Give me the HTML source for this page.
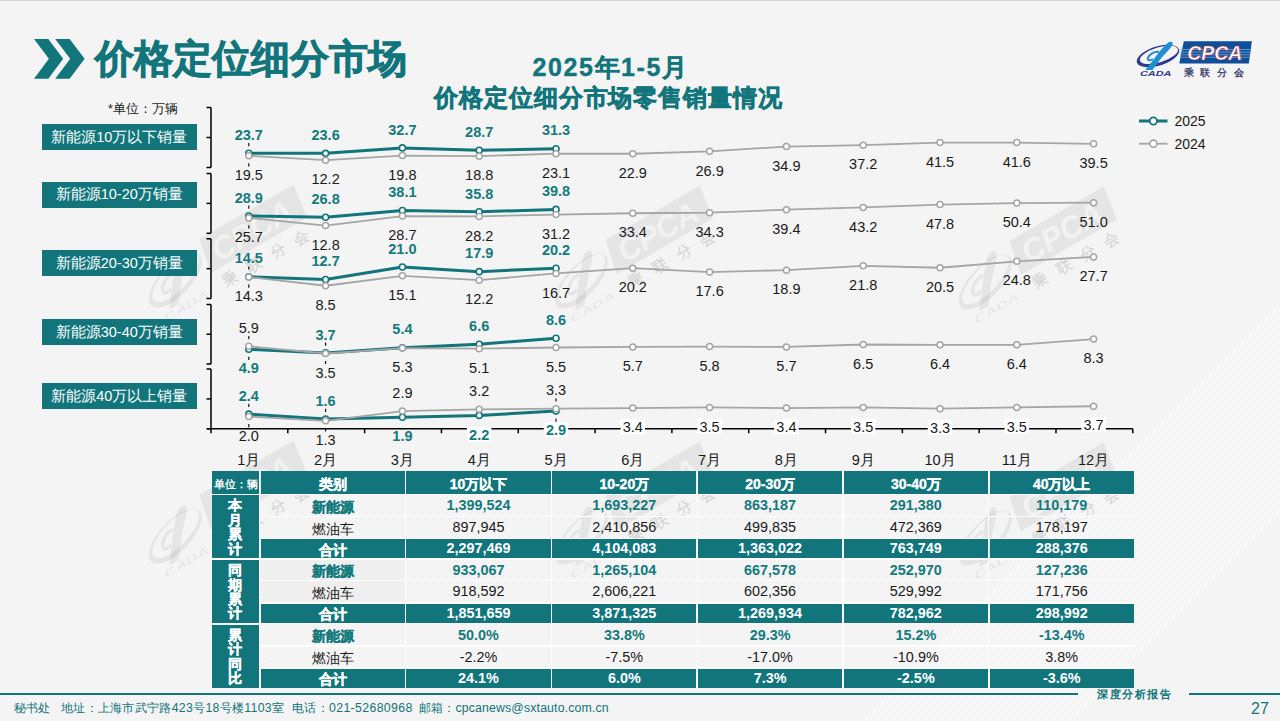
<!DOCTYPE html>
<html><head><meta charset="utf-8"><style>
*{margin:0;padding:0;box-sizing:border-box}
html,body{width:1280px;height:721px;overflow:hidden}
body{position:relative;font-family:'Liberation Sans', sans-serif;background-color:#f4f4f4;}
.bg{background-color:#f4f4f4;background-image:repeating-linear-gradient(135deg,#f8f8f8 0px,#f8f8f8 1.5px,#f0f0f0 1.5px,#f0f0f0 2.83px);background-attachment:fixed}
.a{position:absolute;white-space:nowrap}
.topline{position:absolute;left:0;top:0;width:1280px;height:1px;background:#d6d6d2}
.title{position:absolute;left:95px;top:32px;font-size:38.5px;font-weight:bold;color:#11757b;letter-spacing:0px;line-height:54px;-webkit-text-stroke:0.9px #11757b}
.st{position:absolute;font-weight:bold;color:#11757b;white-space:nowrap;text-align:center}
.lb{position:absolute;left:42px;width:154.5px;background:#11757b;color:#fff;font-size:14.5px;text-align:center;display:flex;align-items:center;justify-content:center;white-space:nowrap}
.c{position:absolute;text-align:center;white-space:nowrap;font-size:14px;padding-top:1.5px}
.hw{color:#fff;font-weight:bold}
.hw.cj{-webkit-text-stroke:0.35px #fff}
.hu{color:#fff;font-weight:bold;font-size:10.5px}
.nt{color:#137a7e;font-weight:bold}
.nt.cj{-webkit-text-stroke:0.35px #137a7e}
.rg{color:#1a1a1a}
.num{font-size:14.4px;padding-top:0!important}
.vt{color:#fff;font-weight:bold;-webkit-text-stroke:0.3px #fff;padding-top:3px!important;padding-right:1.2px;display:flex;flex-direction:column;align-items:center;justify-content:center;line-height:14.4px!important;font-size:13.8px}
.vt span{display:block;height:14.4px}
svg text{font-family:'Liberation Sans', sans-serif}
.ft{position:absolute;top:700.5px;font-size:12.3px;color:#11757b;line-height:15px;white-space:nowrap}
</style></head><body>
<div class="a bg" style="left:0;top:0;width:1280px;height:721px"></div>
<svg class="a" style="left:0;top:0" width="1280" height="721" viewBox="0 0 1280 721"><g transform="translate(230,277) rotate(-30) scale(1.6) translate(-1188.5,-71.5)" fill="#000" fill-opacity="0.06" stroke-opacity="0.06">
<g transform="rotate(-17 1158 56)"><path fill-rule="evenodd" d="M1136,56 a22,9.6 0 1,0 44,0 a22,9.6 0 1,0 -44,0 Z M1139.4,55.2 a19.8,7.5 0 1,0 39.6,0 a19.8,7.5 0 1,0 -39.6,0 Z"/></g>
<path d="M1145.4,70 L1152.4,70 L1160.5,59 C1164.5,54 1170.5,49 1172.6,44.5 C1173.4,42 1171,41.2 1168.6,42.2 C1164.5,45 1160.5,50.5 1157,55 Z"/>
<path fill="none" stroke="#000" stroke-width="2" d="M1159,51.8 C1154.5,51.2 1148.8,54.2 1147.8,58.2 C1147.3,60.5 1150.2,60.8 1153,59.2"/>
<text x="1140" y="75.8" font-size="6.4" font-style="italic" font-weight="bold" textLength="31.5" lengthAdjust="spacingAndGlyphs">CADA</text>
<path fill-rule="evenodd" d="M1183.8,41.3 L1251.9,41.3 L1248.8,63.4 L1179.3,63.4 Z"/>
<text x="1183.6" y="75.6" font-size="9.6" font-weight="bold" stroke="#000" stroke-width="0.3" textLength="60.5" lengthAdjust="spacing">乘联分会</text>
<text x="1187.3" y="59.9" font-size="19.6" font-style="italic" font-weight="bold" fill="#fff" fill-opacity="0.5" textLength="55" lengthAdjust="spacingAndGlyphs">CPCA</text></g><g transform="translate(636,278) rotate(-30) scale(1.6) translate(-1188.5,-71.5)" fill="#000" fill-opacity="0.06" stroke-opacity="0.06">
<g transform="rotate(-17 1158 56)"><path fill-rule="evenodd" d="M1136,56 a22,9.6 0 1,0 44,0 a22,9.6 0 1,0 -44,0 Z M1139.4,55.2 a19.8,7.5 0 1,0 39.6,0 a19.8,7.5 0 1,0 -39.6,0 Z"/></g>
<path d="M1145.4,70 L1152.4,70 L1160.5,59 C1164.5,54 1170.5,49 1172.6,44.5 C1173.4,42 1171,41.2 1168.6,42.2 C1164.5,45 1160.5,50.5 1157,55 Z"/>
<path fill="none" stroke="#000" stroke-width="2" d="M1159,51.8 C1154.5,51.2 1148.8,54.2 1147.8,58.2 C1147.3,60.5 1150.2,60.8 1153,59.2"/>
<text x="1140" y="75.8" font-size="6.4" font-style="italic" font-weight="bold" textLength="31.5" lengthAdjust="spacingAndGlyphs">CADA</text>
<path fill-rule="evenodd" d="M1183.8,41.3 L1251.9,41.3 L1248.8,63.4 L1179.3,63.4 Z"/>
<text x="1183.6" y="75.6" font-size="9.6" font-weight="bold" stroke="#000" stroke-width="0.3" textLength="60.5" lengthAdjust="spacing">乘联分会</text>
<text x="1187.3" y="59.9" font-size="19.6" font-style="italic" font-weight="bold" fill="#fff" fill-opacity="0.5" textLength="55" lengthAdjust="spacingAndGlyphs">CPCA</text></g><g transform="translate(1040,279) rotate(-30) scale(1.6) translate(-1188.5,-71.5)" fill="#000" fill-opacity="0.06" stroke-opacity="0.06">
<g transform="rotate(-17 1158 56)"><path fill-rule="evenodd" d="M1136,56 a22,9.6 0 1,0 44,0 a22,9.6 0 1,0 -44,0 Z M1139.4,55.2 a19.8,7.5 0 1,0 39.6,0 a19.8,7.5 0 1,0 -39.6,0 Z"/></g>
<path d="M1145.4,70 L1152.4,70 L1160.5,59 C1164.5,54 1170.5,49 1172.6,44.5 C1173.4,42 1171,41.2 1168.6,42.2 C1164.5,45 1160.5,50.5 1157,55 Z"/>
<path fill="none" stroke="#000" stroke-width="2" d="M1159,51.8 C1154.5,51.2 1148.8,54.2 1147.8,58.2 C1147.3,60.5 1150.2,60.8 1153,59.2"/>
<text x="1140" y="75.8" font-size="6.4" font-style="italic" font-weight="bold" textLength="31.5" lengthAdjust="spacingAndGlyphs">CADA</text>
<path fill-rule="evenodd" d="M1183.8,41.3 L1251.9,41.3 L1248.8,63.4 L1179.3,63.4 Z"/>
<text x="1183.6" y="75.6" font-size="9.6" font-weight="bold" stroke="#000" stroke-width="0.3" textLength="60.5" lengthAdjust="spacing">乘联分会</text>
<text x="1187.3" y="59.9" font-size="19.6" font-style="italic" font-weight="bold" fill="#fff" fill-opacity="0.5" textLength="55" lengthAdjust="spacingAndGlyphs">CPCA</text></g><g transform="translate(230,533) rotate(-30) scale(1.6) translate(-1188.5,-71.5)" fill="#000" fill-opacity="0.06" stroke-opacity="0.06">
<g transform="rotate(-17 1158 56)"><path fill-rule="evenodd" d="M1136,56 a22,9.6 0 1,0 44,0 a22,9.6 0 1,0 -44,0 Z M1139.4,55.2 a19.8,7.5 0 1,0 39.6,0 a19.8,7.5 0 1,0 -39.6,0 Z"/></g>
<path d="M1145.4,70 L1152.4,70 L1160.5,59 C1164.5,54 1170.5,49 1172.6,44.5 C1173.4,42 1171,41.2 1168.6,42.2 C1164.5,45 1160.5,50.5 1157,55 Z"/>
<path fill="none" stroke="#000" stroke-width="2" d="M1159,51.8 C1154.5,51.2 1148.8,54.2 1147.8,58.2 C1147.3,60.5 1150.2,60.8 1153,59.2"/>
<text x="1140" y="75.8" font-size="6.4" font-style="italic" font-weight="bold" textLength="31.5" lengthAdjust="spacingAndGlyphs">CADA</text>
<path fill-rule="evenodd" d="M1183.8,41.3 L1251.9,41.3 L1248.8,63.4 L1179.3,63.4 Z"/>
<text x="1183.6" y="75.6" font-size="9.6" font-weight="bold" stroke="#000" stroke-width="0.3" textLength="60.5" lengthAdjust="spacing">乘联分会</text>
<text x="1187.3" y="59.9" font-size="19.6" font-style="italic" font-weight="bold" fill="#fff" fill-opacity="0.5" textLength="55" lengthAdjust="spacingAndGlyphs">CPCA</text></g><g transform="translate(636,534) rotate(-30) scale(1.6) translate(-1188.5,-71.5)" fill="#000" fill-opacity="0.06" stroke-opacity="0.06">
<g transform="rotate(-17 1158 56)"><path fill-rule="evenodd" d="M1136,56 a22,9.6 0 1,0 44,0 a22,9.6 0 1,0 -44,0 Z M1139.4,55.2 a19.8,7.5 0 1,0 39.6,0 a19.8,7.5 0 1,0 -39.6,0 Z"/></g>
<path d="M1145.4,70 L1152.4,70 L1160.5,59 C1164.5,54 1170.5,49 1172.6,44.5 C1173.4,42 1171,41.2 1168.6,42.2 C1164.5,45 1160.5,50.5 1157,55 Z"/>
<path fill="none" stroke="#000" stroke-width="2" d="M1159,51.8 C1154.5,51.2 1148.8,54.2 1147.8,58.2 C1147.3,60.5 1150.2,60.8 1153,59.2"/>
<text x="1140" y="75.8" font-size="6.4" font-style="italic" font-weight="bold" textLength="31.5" lengthAdjust="spacingAndGlyphs">CADA</text>
<path fill-rule="evenodd" d="M1183.8,41.3 L1251.9,41.3 L1248.8,63.4 L1179.3,63.4 Z"/>
<text x="1183.6" y="75.6" font-size="9.6" font-weight="bold" stroke="#000" stroke-width="0.3" textLength="60.5" lengthAdjust="spacing">乘联分会</text>
<text x="1187.3" y="59.9" font-size="19.6" font-style="italic" font-weight="bold" fill="#fff" fill-opacity="0.5" textLength="55" lengthAdjust="spacingAndGlyphs">CPCA</text></g><g transform="translate(1040,535) rotate(-30) scale(1.6) translate(-1188.5,-71.5)" fill="#000" fill-opacity="0.06" stroke-opacity="0.06">
<g transform="rotate(-17 1158 56)"><path fill-rule="evenodd" d="M1136,56 a22,9.6 0 1,0 44,0 a22,9.6 0 1,0 -44,0 Z M1139.4,55.2 a19.8,7.5 0 1,0 39.6,0 a19.8,7.5 0 1,0 -39.6,0 Z"/></g>
<path d="M1145.4,70 L1152.4,70 L1160.5,59 C1164.5,54 1170.5,49 1172.6,44.5 C1173.4,42 1171,41.2 1168.6,42.2 C1164.5,45 1160.5,50.5 1157,55 Z"/>
<path fill="none" stroke="#000" stroke-width="2" d="M1159,51.8 C1154.5,51.2 1148.8,54.2 1147.8,58.2 C1147.3,60.5 1150.2,60.8 1153,59.2"/>
<text x="1140" y="75.8" font-size="6.4" font-style="italic" font-weight="bold" textLength="31.5" lengthAdjust="spacingAndGlyphs">CADA</text>
<path fill-rule="evenodd" d="M1183.8,41.3 L1251.9,41.3 L1248.8,63.4 L1179.3,63.4 Z"/>
<text x="1183.6" y="75.6" font-size="9.6" font-weight="bold" stroke="#000" stroke-width="0.3" textLength="60.5" lengthAdjust="spacing">乘联分会</text>
<text x="1187.3" y="59.9" font-size="19.6" font-style="italic" font-weight="bold" fill="#fff" fill-opacity="0.5" textLength="55" lengthAdjust="spacingAndGlyphs">CPCA</text></g></svg>
<div class="topline"></div>
<svg class="a" style="left:0;top:0" width="1280" height="721" viewBox="0 0 1280 721">
<polygon fill="#11757b" points="34,39 48.3,39 63.2,58.8 48.3,78.7 34,78.7 48.9,58.8"/>
<polygon fill="#11757b" points="55.2,39 69.6,39 84.6,58.8 69.6,78.7 55.2,78.7 70.2,58.8"/>

<g>
<g transform="rotate(-17 1158 56)"><path fill-rule="evenodd" fill="#2c3a92" d="M1136,56 a22,9.6 0 1,0 44,0 a22,9.6 0 1,0 -44,0 Z M1139.4,55.2 a19.8,7.5 0 1,0 39.6,0 a19.8,7.5 0 1,0 -39.6,0 Z"/></g>
<path fill="#1f8fd2" d="M1145.4,70 L1152.4,70 L1160.5,59 C1164.5,54 1170.5,49 1172.6,44.5 C1173.4,42 1171,41.2 1168.6,42.2 C1164.5,45 1160.5,50.5 1157,55 Z"/>
<path fill="none" stroke="#1f8fd2" stroke-width="2" d="M1159,51.8 C1154.5,51.2 1148.8,54.2 1147.8,58.2 C1147.3,60.5 1150.2,60.8 1153,59.2"/>
<text x="1140" y="75.8" font-size="6.4" font-style="italic" font-weight="bold" fill="#2c3a92" textLength="31.5" lengthAdjust="spacingAndGlyphs">CADA</text>
<polygon fill="#0d4f98" points="1183.8,41.3 1251.9,41.3 1248.8,63.4 1179.3,63.4"/>
<rect x="1180.6" y="49.0" width="70.6" height="1.1" fill="#5f93cb"/>
<rect x="1180.3" y="51.6" width="70.5" height="1.1" fill="#5f93cb"/>
<rect x="1180.0" y="54.2" width="70.4" height="1.1" fill="#5f93cb"/>
<rect x="1179.7" y="56.8" width="70.3" height="1.0" fill="#5f93cb"/>
<text x="1187.3" y="59.9" font-size="19.6" font-style="italic" font-weight="bold" fill="#fff" stroke="#d9262c" stroke-width="0.45" textLength="55" lengthAdjust="spacingAndGlyphs">CPCA</text>
<text x="1183.6" y="75.6" font-size="9.8" fill="#1e2a5c" stroke="#1e2a5c" stroke-width="0.25" textLength="60.5" lengthAdjust="spacing">乘联分会</text>
</g>

</svg>
<div class="title">价格定位细分市场</div>
<div class="st" style="left:532.5px;top:52.4px;font-size:25px;line-height:30px;letter-spacing:1.6px;text-align:left;-webkit-text-stroke:0.4px #11757b">2025年1-5月</div>
<div class="st" style="left:400px;top:82.8px;width:416px;font-size:23.8px;letter-spacing:0.9px;text-indent:0.9px;line-height:30px;-webkit-text-stroke:0.6px #11757b">价格定位细分市场零售销量情况</div>
<div class="a" style="left:108px;top:102.3px;font-size:12.5px;line-height:15px;color:#1a1a1a">*单位：万辆</div>
<div class="lb" style="top:124px;height:26px">新能源10万以下销量</div>
<div class="lb" style="top:182px;height:25.5px">新能源10-20万销量</div>
<div class="lb" style="top:250px;height:26px">新能源20-30万销量</div>
<div class="lb" style="top:319px;height:26px">新能源30-40万销量</div>
<div class="lb" style="top:383px;height:26px">新能源40万以上销量</div>
<svg class="a" style="left:0;top:0" width="1280" height="721" viewBox="0 0 1280 721">
<line x1="211.0" y1="107.5" x2="211.0" y2="167.5" stroke="#000" stroke-width="1.5"/>
<line x1="206.5" y1="107.5" x2="211.0" y2="107.5" stroke="#000" stroke-width="1.5"/>
<line x1="206.5" y1="137.5" x2="211.0" y2="137.5" stroke="#000" stroke-width="1.5"/>
<line x1="206.5" y1="167.5" x2="211.0" y2="167.5" stroke="#000" stroke-width="1.5"/>
<line x1="211.0" y1="173.5" x2="211.0" y2="233.3" stroke="#000" stroke-width="1.5"/>
<line x1="206.5" y1="173.5" x2="211.0" y2="173.5" stroke="#000" stroke-width="1.5"/>
<line x1="206.5" y1="203.4" x2="211.0" y2="203.4" stroke="#000" stroke-width="1.5"/>
<line x1="206.5" y1="233.3" x2="211.0" y2="233.3" stroke="#000" stroke-width="1.5"/>
<line x1="211.0" y1="238.8" x2="211.0" y2="298.5" stroke="#000" stroke-width="1.5"/>
<line x1="206.5" y1="238.8" x2="211.0" y2="238.8" stroke="#000" stroke-width="1.5"/>
<line x1="206.5" y1="268.65" x2="211.0" y2="268.65" stroke="#000" stroke-width="1.5"/>
<line x1="206.5" y1="298.5" x2="211.0" y2="298.5" stroke="#000" stroke-width="1.5"/>
<line x1="211.0" y1="304.5" x2="211.0" y2="364.0" stroke="#000" stroke-width="1.5"/>
<line x1="206.5" y1="304.5" x2="211.0" y2="304.5" stroke="#000" stroke-width="1.5"/>
<line x1="206.5" y1="334.25" x2="211.0" y2="334.25" stroke="#000" stroke-width="1.5"/>
<line x1="206.5" y1="364.0" x2="211.0" y2="364.0" stroke="#000" stroke-width="1.5"/>
<line x1="211.0" y1="369.0" x2="211.0" y2="428.8" stroke="#000" stroke-width="1.5"/>
<line x1="206.5" y1="369.0" x2="211.0" y2="369.0" stroke="#000" stroke-width="1.5"/>
<line x1="206.5" y1="398.9" x2="211.0" y2="398.9" stroke="#000" stroke-width="1.5"/>
<line x1="206.5" y1="428.8" x2="211.0" y2="428.8" stroke="#000" stroke-width="1.5"/>
<line x1="207.0" y1="428.8" x2="1132.8" y2="428.8" stroke="#000" stroke-width="1.5"/>
<line x1="211.00" y1="428.8" x2="211.00" y2="433.3" stroke="#000" stroke-width="1.5"/>
<line x1="287.82" y1="428.8" x2="287.82" y2="433.3" stroke="#000" stroke-width="1.5"/>
<line x1="364.63" y1="428.8" x2="364.63" y2="433.3" stroke="#000" stroke-width="1.5"/>
<line x1="441.45" y1="428.8" x2="441.45" y2="433.3" stroke="#000" stroke-width="1.5"/>
<line x1="518.27" y1="428.8" x2="518.27" y2="433.3" stroke="#000" stroke-width="1.5"/>
<line x1="595.08" y1="428.8" x2="595.08" y2="433.3" stroke="#000" stroke-width="1.5"/>
<line x1="671.90" y1="428.8" x2="671.90" y2="433.3" stroke="#000" stroke-width="1.5"/>
<line x1="748.72" y1="428.8" x2="748.72" y2="433.3" stroke="#000" stroke-width="1.5"/>
<line x1="825.53" y1="428.8" x2="825.53" y2="433.3" stroke="#000" stroke-width="1.5"/>
<line x1="902.35" y1="428.8" x2="902.35" y2="433.3" stroke="#000" stroke-width="1.5"/>
<line x1="979.17" y1="428.8" x2="979.17" y2="433.3" stroke="#000" stroke-width="1.5"/>
<line x1="1055.98" y1="428.8" x2="1055.98" y2="433.3" stroke="#000" stroke-width="1.5"/>
<line x1="1132.80" y1="428.8" x2="1132.80" y2="433.3" stroke="#000" stroke-width="1.5"/>
<line x1="248.80" y1="163.20" x2="248.80" y2="166.40" stroke="#000" stroke-width="1.1"/>
<line x1="248.80" y1="142.93" x2="248.80" y2="146.13" stroke="#000" stroke-width="1.1"/>
<line x1="248.80" y1="225.28" x2="248.80" y2="228.48" stroke="#000" stroke-width="1.1"/>
<line x1="248.80" y1="205.61" x2="248.80" y2="208.81" stroke="#000" stroke-width="1.1"/>
<line x1="248.80" y1="284.45" x2="248.80" y2="287.65" stroke="#000" stroke-width="1.1"/>
<line x1="248.80" y1="266.40" x2="248.80" y2="269.60" stroke="#000" stroke-width="1.1"/>
<line x1="248.80" y1="335.95" x2="248.80" y2="339.15" stroke="#000" stroke-width="1.1"/>
<line x1="325.60" y1="360.90" x2="325.60" y2="364.10" stroke="#000" stroke-width="1.1"/>
<line x1="248.80" y1="356.70" x2="248.80" y2="359.90" stroke="#000" stroke-width="1.1"/>
<line x1="325.60" y1="342.55" x2="325.60" y2="345.75" stroke="#000" stroke-width="1.1"/>
<line x1="248.80" y1="424.00" x2="248.80" y2="427.20" stroke="#000" stroke-width="1.1"/>
<line x1="325.60" y1="428.27" x2="325.60" y2="431.47" stroke="#000" stroke-width="1.1"/>
<line x1="556.00" y1="398.32" x2="556.00" y2="401.52" stroke="#000" stroke-width="1.1"/>
<line x1="248.80" y1="403.81" x2="248.80" y2="407.01" stroke="#000" stroke-width="1.1"/>
<line x1="325.60" y1="408.69" x2="325.60" y2="411.89" stroke="#000" stroke-width="1.1"/>
<line x1="556.00" y1="418.51" x2="556.00" y2="421.71" stroke="#000" stroke-width="1.1"/>
<polyline fill="none" stroke="#11757b" stroke-width="3" stroke-linejoin="round" points="248.80,153.28 325.60,153.34 402.40,147.88 479.20,150.28 556.00,148.72"/>
<circle cx="248.80" cy="153.28" r="3.0" fill="#fff" stroke="#11757b" stroke-width="1.6"/>
<circle cx="325.60" cy="153.34" r="3.0" fill="#fff" stroke="#11757b" stroke-width="1.6"/>
<circle cx="402.40" cy="147.88" r="3.0" fill="#fff" stroke="#11757b" stroke-width="1.6"/>
<circle cx="479.20" cy="150.28" r="3.0" fill="#fff" stroke="#11757b" stroke-width="1.6"/>
<circle cx="556.00" cy="148.72" r="3.0" fill="#fff" stroke="#11757b" stroke-width="1.6"/>
<polyline fill="none" stroke="#11757b" stroke-width="3" stroke-linejoin="round" points="248.80,215.96 325.60,217.22 402.40,210.44 479.20,211.82 556.00,209.42"/>
<circle cx="248.80" cy="215.96" r="3.0" fill="#fff" stroke="#11757b" stroke-width="1.6"/>
<circle cx="325.60" cy="217.22" r="3.0" fill="#fff" stroke="#11757b" stroke-width="1.6"/>
<circle cx="402.40" cy="210.44" r="3.0" fill="#fff" stroke="#11757b" stroke-width="1.6"/>
<circle cx="479.20" cy="211.82" r="3.0" fill="#fff" stroke="#11757b" stroke-width="1.6"/>
<circle cx="556.00" cy="209.42" r="3.0" fill="#fff" stroke="#11757b" stroke-width="1.6"/>
<polyline fill="none" stroke="#11757b" stroke-width="3" stroke-linejoin="round" points="248.80,276.75 325.60,279.45 402.40,267.00 479.20,271.65 556.00,268.20"/>
<circle cx="248.80" cy="276.75" r="3.0" fill="#fff" stroke="#11757b" stroke-width="1.6"/>
<circle cx="325.60" cy="279.45" r="3.0" fill="#fff" stroke="#11757b" stroke-width="1.6"/>
<circle cx="402.40" cy="267.00" r="3.0" fill="#fff" stroke="#11757b" stroke-width="1.6"/>
<circle cx="479.20" cy="271.65" r="3.0" fill="#fff" stroke="#11757b" stroke-width="1.6"/>
<circle cx="556.00" cy="268.20" r="3.0" fill="#fff" stroke="#11757b" stroke-width="1.6"/>
<polyline fill="none" stroke="#11757b" stroke-width="3" stroke-linejoin="round" points="248.80,349.30 325.60,352.90 402.40,347.80 479.20,344.20 556.00,338.20"/>
<circle cx="248.80" cy="349.30" r="3.0" fill="#fff" stroke="#11757b" stroke-width="1.6"/>
<circle cx="325.60" cy="352.90" r="3.0" fill="#fff" stroke="#11757b" stroke-width="1.6"/>
<circle cx="402.40" cy="347.80" r="3.0" fill="#fff" stroke="#11757b" stroke-width="1.6"/>
<circle cx="479.20" cy="344.20" r="3.0" fill="#fff" stroke="#11757b" stroke-width="1.6"/>
<circle cx="556.00" cy="338.20" r="3.0" fill="#fff" stroke="#11757b" stroke-width="1.6"/>
<polyline fill="none" stroke="#11757b" stroke-width="3" stroke-linejoin="round" points="248.80,414.16 325.60,419.04 402.40,417.21 479.20,415.38 556.00,411.11"/>
<circle cx="248.80" cy="414.16" r="3.0" fill="#fff" stroke="#11757b" stroke-width="1.6"/>
<circle cx="325.60" cy="419.04" r="3.0" fill="#fff" stroke="#11757b" stroke-width="1.6"/>
<circle cx="402.40" cy="417.21" r="3.0" fill="#fff" stroke="#11757b" stroke-width="1.6"/>
<circle cx="479.20" cy="415.38" r="3.0" fill="#fff" stroke="#11757b" stroke-width="1.6"/>
<circle cx="556.00" cy="411.11" r="3.0" fill="#fff" stroke="#11757b" stroke-width="1.6"/>
<polyline fill="none" stroke="#a5a5a5" stroke-width="1.8" points="248.80,155.80 325.60,160.18 402.40,155.62 479.20,156.22 556.00,153.64 632.80,153.76 709.60,151.36 786.40,146.56 863.20,145.18 940.00,142.60 1016.80,142.54 1093.60,143.80"/>
<circle cx="248.80" cy="155.80" r="3.0" fill="#fff" stroke="#a5a5a5" stroke-width="1.5"/>
<circle cx="325.60" cy="160.18" r="3.0" fill="#fff" stroke="#a5a5a5" stroke-width="1.5"/>
<circle cx="402.40" cy="155.62" r="3.0" fill="#fff" stroke="#a5a5a5" stroke-width="1.5"/>
<circle cx="479.20" cy="156.22" r="3.0" fill="#fff" stroke="#a5a5a5" stroke-width="1.5"/>
<circle cx="556.00" cy="153.64" r="3.0" fill="#fff" stroke="#a5a5a5" stroke-width="1.5"/>
<circle cx="632.80" cy="153.76" r="3.0" fill="#fff" stroke="#a5a5a5" stroke-width="1.5"/>
<circle cx="709.60" cy="151.36" r="3.0" fill="#fff" stroke="#a5a5a5" stroke-width="1.5"/>
<circle cx="786.40" cy="146.56" r="3.0" fill="#fff" stroke="#a5a5a5" stroke-width="1.5"/>
<circle cx="863.20" cy="145.18" r="3.0" fill="#fff" stroke="#a5a5a5" stroke-width="1.5"/>
<circle cx="940.00" cy="142.60" r="3.0" fill="#fff" stroke="#a5a5a5" stroke-width="1.5"/>
<circle cx="1016.80" cy="142.54" r="3.0" fill="#fff" stroke="#a5a5a5" stroke-width="1.5"/>
<circle cx="1093.60" cy="143.80" r="3.0" fill="#fff" stroke="#a5a5a5" stroke-width="1.5"/>
<polyline fill="none" stroke="#a5a5a5" stroke-width="1.8" points="248.80,217.88 325.60,225.62 402.40,216.08 479.20,216.38 556.00,214.58 632.80,213.26 709.60,212.72 786.40,209.66 863.20,207.38 940.00,204.62 1016.80,203.06 1093.60,202.70"/>
<circle cx="248.80" cy="217.88" r="3.0" fill="#fff" stroke="#a5a5a5" stroke-width="1.5"/>
<circle cx="325.60" cy="225.62" r="3.0" fill="#fff" stroke="#a5a5a5" stroke-width="1.5"/>
<circle cx="402.40" cy="216.08" r="3.0" fill="#fff" stroke="#a5a5a5" stroke-width="1.5"/>
<circle cx="479.20" cy="216.38" r="3.0" fill="#fff" stroke="#a5a5a5" stroke-width="1.5"/>
<circle cx="556.00" cy="214.58" r="3.0" fill="#fff" stroke="#a5a5a5" stroke-width="1.5"/>
<circle cx="632.80" cy="213.26" r="3.0" fill="#fff" stroke="#a5a5a5" stroke-width="1.5"/>
<circle cx="709.60" cy="212.72" r="3.0" fill="#fff" stroke="#a5a5a5" stroke-width="1.5"/>
<circle cx="786.40" cy="209.66" r="3.0" fill="#fff" stroke="#a5a5a5" stroke-width="1.5"/>
<circle cx="863.20" cy="207.38" r="3.0" fill="#fff" stroke="#a5a5a5" stroke-width="1.5"/>
<circle cx="940.00" cy="204.62" r="3.0" fill="#fff" stroke="#a5a5a5" stroke-width="1.5"/>
<circle cx="1016.80" cy="203.06" r="3.0" fill="#fff" stroke="#a5a5a5" stroke-width="1.5"/>
<circle cx="1093.60" cy="202.70" r="3.0" fill="#fff" stroke="#a5a5a5" stroke-width="1.5"/>
<polyline fill="none" stroke="#a5a5a5" stroke-width="1.8" points="248.80,277.05 325.60,285.75 402.40,275.85 479.20,280.20 556.00,273.45 632.80,268.20 709.60,272.10 786.40,270.15 863.20,265.80 940.00,267.75 1016.80,261.30 1093.60,256.95"/>
<circle cx="248.80" cy="277.05" r="3.0" fill="#fff" stroke="#a5a5a5" stroke-width="1.5"/>
<circle cx="325.60" cy="285.75" r="3.0" fill="#fff" stroke="#a5a5a5" stroke-width="1.5"/>
<circle cx="402.40" cy="275.85" r="3.0" fill="#fff" stroke="#a5a5a5" stroke-width="1.5"/>
<circle cx="479.20" cy="280.20" r="3.0" fill="#fff" stroke="#a5a5a5" stroke-width="1.5"/>
<circle cx="556.00" cy="273.45" r="3.0" fill="#fff" stroke="#a5a5a5" stroke-width="1.5"/>
<circle cx="632.80" cy="268.20" r="3.0" fill="#fff" stroke="#a5a5a5" stroke-width="1.5"/>
<circle cx="709.60" cy="272.10" r="3.0" fill="#fff" stroke="#a5a5a5" stroke-width="1.5"/>
<circle cx="786.40" cy="270.15" r="3.0" fill="#fff" stroke="#a5a5a5" stroke-width="1.5"/>
<circle cx="863.20" cy="265.80" r="3.0" fill="#fff" stroke="#a5a5a5" stroke-width="1.5"/>
<circle cx="940.00" cy="267.75" r="3.0" fill="#fff" stroke="#a5a5a5" stroke-width="1.5"/>
<circle cx="1016.80" cy="261.30" r="3.0" fill="#fff" stroke="#a5a5a5" stroke-width="1.5"/>
<circle cx="1093.60" cy="256.95" r="3.0" fill="#fff" stroke="#a5a5a5" stroke-width="1.5"/>
<polyline fill="none" stroke="#a5a5a5" stroke-width="1.8" points="248.80,346.30 325.60,353.50 402.40,348.10 479.20,348.70 556.00,347.50 632.80,346.90 709.60,346.60 786.40,346.90 863.20,344.50 940.00,344.80 1016.80,344.80 1093.60,339.10"/>
<circle cx="248.80" cy="346.30" r="3.0" fill="#fff" stroke="#a5a5a5" stroke-width="1.5"/>
<circle cx="325.60" cy="353.50" r="3.0" fill="#fff" stroke="#a5a5a5" stroke-width="1.5"/>
<circle cx="402.40" cy="348.10" r="3.0" fill="#fff" stroke="#a5a5a5" stroke-width="1.5"/>
<circle cx="479.20" cy="348.70" r="3.0" fill="#fff" stroke="#a5a5a5" stroke-width="1.5"/>
<circle cx="556.00" cy="347.50" r="3.0" fill="#fff" stroke="#a5a5a5" stroke-width="1.5"/>
<circle cx="632.80" cy="346.90" r="3.0" fill="#fff" stroke="#a5a5a5" stroke-width="1.5"/>
<circle cx="709.60" cy="346.60" r="3.0" fill="#fff" stroke="#a5a5a5" stroke-width="1.5"/>
<circle cx="786.40" cy="346.90" r="3.0" fill="#fff" stroke="#a5a5a5" stroke-width="1.5"/>
<circle cx="863.20" cy="344.50" r="3.0" fill="#fff" stroke="#a5a5a5" stroke-width="1.5"/>
<circle cx="940.00" cy="344.80" r="3.0" fill="#fff" stroke="#a5a5a5" stroke-width="1.5"/>
<circle cx="1016.80" cy="344.80" r="3.0" fill="#fff" stroke="#a5a5a5" stroke-width="1.5"/>
<circle cx="1093.60" cy="339.10" r="3.0" fill="#fff" stroke="#a5a5a5" stroke-width="1.5"/>
<polyline fill="none" stroke="#a5a5a5" stroke-width="1.8" points="248.80,416.60 325.60,420.87 402.40,411.11 479.20,409.28 556.00,408.67 632.80,408.06 709.60,407.45 786.40,408.06 863.20,407.45 940.00,408.67 1016.80,407.45 1093.60,406.23"/>
<circle cx="248.80" cy="416.60" r="3.0" fill="#fff" stroke="#a5a5a5" stroke-width="1.5"/>
<circle cx="325.60" cy="420.87" r="3.0" fill="#fff" stroke="#a5a5a5" stroke-width="1.5"/>
<circle cx="402.40" cy="411.11" r="3.0" fill="#fff" stroke="#a5a5a5" stroke-width="1.5"/>
<circle cx="479.20" cy="409.28" r="3.0" fill="#fff" stroke="#a5a5a5" stroke-width="1.5"/>
<circle cx="556.00" cy="408.67" r="3.0" fill="#fff" stroke="#a5a5a5" stroke-width="1.5"/>
<circle cx="632.80" cy="408.06" r="3.0" fill="#fff" stroke="#a5a5a5" stroke-width="1.5"/>
<circle cx="709.60" cy="407.45" r="3.0" fill="#fff" stroke="#a5a5a5" stroke-width="1.5"/>
<circle cx="786.40" cy="408.06" r="3.0" fill="#fff" stroke="#a5a5a5" stroke-width="1.5"/>
<circle cx="863.20" cy="407.45" r="3.0" fill="#fff" stroke="#a5a5a5" stroke-width="1.5"/>
<circle cx="940.00" cy="408.67" r="3.0" fill="#fff" stroke="#a5a5a5" stroke-width="1.5"/>
<circle cx="1016.80" cy="407.45" r="3.0" fill="#fff" stroke="#a5a5a5" stroke-width="1.5"/>
<circle cx="1093.60" cy="406.23" r="3.0" fill="#fff" stroke="#a5a5a5" stroke-width="1.5"/>
<text x="248.80" y="179.99" text-anchor="middle" font-size="14.5" fill="#1a1a1a">19.5</text>
<text x="325.60" y="184.37" text-anchor="middle" font-size="14.5" fill="#1a1a1a">12.2</text>
<text x="402.40" y="179.81" text-anchor="middle" font-size="14.5" fill="#1a1a1a">19.8</text>
<text x="479.20" y="180.41" text-anchor="middle" font-size="14.5" fill="#1a1a1a">18.8</text>
<text x="556.00" y="177.83" text-anchor="middle" font-size="14.5" fill="#1a1a1a">23.1</text>
<text x="632.80" y="177.95" text-anchor="middle" font-size="14.5" fill="#1a1a1a">22.9</text>
<text x="709.60" y="175.55" text-anchor="middle" font-size="14.5" fill="#1a1a1a">26.9</text>
<text x="786.40" y="170.75" text-anchor="middle" font-size="14.5" fill="#1a1a1a">34.9</text>
<text x="863.20" y="169.37" text-anchor="middle" font-size="14.5" fill="#1a1a1a">37.2</text>
<text x="940.00" y="166.79" text-anchor="middle" font-size="14.5" fill="#1a1a1a">41.5</text>
<text x="1016.80" y="166.73" text-anchor="middle" font-size="14.5" fill="#1a1a1a">41.6</text>
<text x="1093.60" y="167.99" text-anchor="middle" font-size="14.5" fill="#1a1a1a">39.5</text>
<text x="248.80" y="139.97" text-anchor="middle" font-size="14.5" font-weight="bold" fill="#137a7e">23.7</text>
<text x="325.60" y="140.03" text-anchor="middle" font-size="14.5" font-weight="bold" fill="#137a7e">23.6</text>
<text x="402.40" y="134.57" text-anchor="middle" font-size="14.5" font-weight="bold" fill="#137a7e">32.7</text>
<text x="479.20" y="136.97" text-anchor="middle" font-size="14.5" font-weight="bold" fill="#137a7e">28.7</text>
<text x="556.00" y="135.41" text-anchor="middle" font-size="14.5" font-weight="bold" fill="#137a7e">31.3</text>
<text x="248.80" y="242.07" text-anchor="middle" font-size="14.5" fill="#1a1a1a">25.7</text>
<text x="325.60" y="249.81" text-anchor="middle" font-size="14.5" fill="#1a1a1a">12.8</text>
<text x="402.40" y="240.27" text-anchor="middle" font-size="14.5" fill="#1a1a1a">28.7</text>
<text x="479.20" y="240.57" text-anchor="middle" font-size="14.5" fill="#1a1a1a">28.2</text>
<text x="556.00" y="238.77" text-anchor="middle" font-size="14.5" fill="#1a1a1a">31.2</text>
<text x="632.80" y="237.45" text-anchor="middle" font-size="14.5" fill="#1a1a1a">33.4</text>
<text x="709.60" y="236.91" text-anchor="middle" font-size="14.5" fill="#1a1a1a">34.3</text>
<text x="786.40" y="233.85" text-anchor="middle" font-size="14.5" fill="#1a1a1a">39.4</text>
<text x="863.20" y="231.57" text-anchor="middle" font-size="14.5" fill="#1a1a1a">43.2</text>
<text x="940.00" y="228.81" text-anchor="middle" font-size="14.5" fill="#1a1a1a">47.8</text>
<text x="1016.80" y="227.25" text-anchor="middle" font-size="14.5" fill="#1a1a1a">50.4</text>
<text x="1093.60" y="226.89" text-anchor="middle" font-size="14.5" fill="#1a1a1a">51.0</text>
<text x="248.80" y="202.65" text-anchor="middle" font-size="14.5" font-weight="bold" fill="#137a7e">28.9</text>
<text x="325.60" y="203.91" text-anchor="middle" font-size="14.5" font-weight="bold" fill="#137a7e">26.8</text>
<text x="402.40" y="197.13" text-anchor="middle" font-size="14.5" font-weight="bold" fill="#137a7e">38.1</text>
<text x="479.20" y="198.51" text-anchor="middle" font-size="14.5" font-weight="bold" fill="#137a7e">35.8</text>
<text x="556.00" y="196.11" text-anchor="middle" font-size="14.5" font-weight="bold" fill="#137a7e">39.8</text>
<text x="248.80" y="301.24" text-anchor="middle" font-size="14.5" fill="#1a1a1a">14.3</text>
<text x="325.60" y="309.94" text-anchor="middle" font-size="14.5" fill="#1a1a1a">8.5</text>
<text x="402.40" y="300.04" text-anchor="middle" font-size="14.5" fill="#1a1a1a">15.1</text>
<text x="479.20" y="304.39" text-anchor="middle" font-size="14.5" fill="#1a1a1a">12.2</text>
<text x="556.00" y="297.64" text-anchor="middle" font-size="14.5" fill="#1a1a1a">16.7</text>
<text x="632.80" y="292.39" text-anchor="middle" font-size="14.5" fill="#1a1a1a">20.2</text>
<text x="709.60" y="296.29" text-anchor="middle" font-size="14.5" fill="#1a1a1a">17.6</text>
<text x="786.40" y="294.34" text-anchor="middle" font-size="14.5" fill="#1a1a1a">18.9</text>
<text x="863.20" y="289.99" text-anchor="middle" font-size="14.5" fill="#1a1a1a">21.8</text>
<text x="940.00" y="291.94" text-anchor="middle" font-size="14.5" fill="#1a1a1a">20.5</text>
<text x="1016.80" y="285.49" text-anchor="middle" font-size="14.5" fill="#1a1a1a">24.8</text>
<text x="1093.60" y="281.14" text-anchor="middle" font-size="14.5" fill="#1a1a1a">27.7</text>
<text x="248.80" y="263.44" text-anchor="middle" font-size="14.5" font-weight="bold" fill="#137a7e">14.5</text>
<text x="325.60" y="266.14" text-anchor="middle" font-size="14.5" font-weight="bold" fill="#137a7e">12.7</text>
<text x="402.40" y="253.69" text-anchor="middle" font-size="14.5" font-weight="bold" fill="#137a7e">21.0</text>
<text x="479.20" y="258.34" text-anchor="middle" font-size="14.5" font-weight="bold" fill="#137a7e">17.9</text>
<text x="556.00" y="254.89" text-anchor="middle" font-size="14.5" font-weight="bold" fill="#137a7e">20.2</text>
<text x="248.80" y="332.99" text-anchor="middle" font-size="14.5" fill="#1a1a1a">5.9</text>
<text x="325.60" y="377.69" text-anchor="middle" font-size="14.5" fill="#1a1a1a">3.5</text>
<text x="402.40" y="372.29" text-anchor="middle" font-size="14.5" fill="#1a1a1a">5.3</text>
<text x="479.20" y="372.89" text-anchor="middle" font-size="14.5" fill="#1a1a1a">5.1</text>
<text x="556.00" y="371.69" text-anchor="middle" font-size="14.5" fill="#1a1a1a">5.5</text>
<text x="632.80" y="371.09" text-anchor="middle" font-size="14.5" fill="#1a1a1a">5.7</text>
<text x="709.60" y="370.79" text-anchor="middle" font-size="14.5" fill="#1a1a1a">5.8</text>
<text x="786.40" y="371.09" text-anchor="middle" font-size="14.5" fill="#1a1a1a">5.7</text>
<text x="863.20" y="368.69" text-anchor="middle" font-size="14.5" fill="#1a1a1a">6.5</text>
<text x="940.00" y="368.99" text-anchor="middle" font-size="14.5" fill="#1a1a1a">6.4</text>
<text x="1016.80" y="368.99" text-anchor="middle" font-size="14.5" fill="#1a1a1a">6.4</text>
<text x="1093.60" y="363.29" text-anchor="middle" font-size="14.5" fill="#1a1a1a">8.3</text>
<text x="248.80" y="373.49" text-anchor="middle" font-size="14.5" font-weight="bold" fill="#137a7e">4.9</text>
<text x="325.60" y="339.59" text-anchor="middle" font-size="14.5" font-weight="bold" fill="#137a7e">3.7</text>
<text x="402.40" y="334.49" text-anchor="middle" font-size="14.5" font-weight="bold" fill="#137a7e">5.4</text>
<text x="479.20" y="330.89" text-anchor="middle" font-size="14.5" font-weight="bold" fill="#137a7e">6.6</text>
<text x="556.00" y="324.89" text-anchor="middle" font-size="14.5" font-weight="bold" fill="#137a7e">8.6</text>
<text x="248.80" y="440.79" text-anchor="middle" font-size="14.5" fill="#1a1a1a">2.0</text>
<text x="325.60" y="445.06" text-anchor="middle" font-size="14.5" fill="#1a1a1a">1.3</text>
<text x="402.40" y="397.80" text-anchor="middle" font-size="14.5" fill="#1a1a1a">2.9</text>
<text x="479.20" y="395.97" text-anchor="middle" font-size="14.5" fill="#1a1a1a">3.2</text>
<text x="556.00" y="395.36" text-anchor="middle" font-size="14.5" fill="#1a1a1a">3.3</text>
<rect x="620.55" y="419.26" width="24.50" height="15" fill="#fff"/>
<text x="632.80" y="432.25" text-anchor="middle" font-size="14.5" fill="#1a1a1a">3.4</text>
<rect x="697.35" y="418.65" width="24.50" height="15" fill="#fff"/>
<text x="709.60" y="431.64" text-anchor="middle" font-size="14.5" fill="#1a1a1a">3.5</text>
<rect x="774.15" y="419.26" width="24.50" height="15" fill="#fff"/>
<text x="786.40" y="432.25" text-anchor="middle" font-size="14.5" fill="#1a1a1a">3.4</text>
<rect x="850.95" y="418.65" width="24.50" height="15" fill="#fff"/>
<text x="863.20" y="431.64" text-anchor="middle" font-size="14.5" fill="#1a1a1a">3.5</text>
<rect x="927.75" y="419.87" width="24.50" height="15" fill="#fff"/>
<text x="940.00" y="432.86" text-anchor="middle" font-size="14.5" fill="#1a1a1a">3.3</text>
<rect x="1004.55" y="418.65" width="24.50" height="15" fill="#fff"/>
<text x="1016.80" y="431.64" text-anchor="middle" font-size="14.5" fill="#1a1a1a">3.5</text>
<rect x="1081.35" y="417.43" width="24.50" height="15" fill="#fff"/>
<text x="1093.60" y="430.42" text-anchor="middle" font-size="14.5" fill="#1a1a1a">3.7</text>
<text x="248.80" y="400.85" text-anchor="middle" font-size="14.5" font-weight="bold" fill="#137a7e">2.4</text>
<text x="325.60" y="405.73" text-anchor="middle" font-size="14.5" font-weight="bold" fill="#137a7e">1.6</text>
<text x="402.40" y="441.40" text-anchor="middle" font-size="14.5" font-weight="bold" fill="#137a7e">1.9</text>
<rect x="466.95" y="426.58" width="24.50" height="15" fill="#fff"/>
<text x="479.20" y="439.57" text-anchor="middle" font-size="14.5" font-weight="bold" fill="#137a7e">2.2</text>
<rect x="543.75" y="422.31" width="24.50" height="15" fill="#fff"/>
<text x="556.00" y="435.30" text-anchor="middle" font-size="14.5" font-weight="bold" fill="#137a7e">2.9</text>
<text x="248.80" y="465.30" text-anchor="middle" font-size="14.6" fill="#1a1a1a">1月</text>
<text x="325.60" y="465.30" text-anchor="middle" font-size="14.6" fill="#1a1a1a">2月</text>
<text x="402.40" y="465.30" text-anchor="middle" font-size="14.6" fill="#1a1a1a">3月</text>
<text x="479.20" y="465.30" text-anchor="middle" font-size="14.6" fill="#1a1a1a">4月</text>
<text x="556.00" y="465.30" text-anchor="middle" font-size="14.6" fill="#1a1a1a">5月</text>
<text x="632.80" y="465.30" text-anchor="middle" font-size="14.6" fill="#1a1a1a">6月</text>
<text x="709.60" y="465.30" text-anchor="middle" font-size="14.6" fill="#1a1a1a">7月</text>
<text x="786.40" y="465.30" text-anchor="middle" font-size="14.6" fill="#1a1a1a">8月</text>
<text x="863.20" y="465.30" text-anchor="middle" font-size="14.6" fill="#1a1a1a">9月</text>
<text x="940.00" y="465.30" text-anchor="middle" font-size="14.6" fill="#1a1a1a">10月</text>
<text x="1016.80" y="465.30" text-anchor="middle" font-size="14.6" fill="#1a1a1a">11月</text>
<text x="1093.60" y="465.30" text-anchor="middle" font-size="14.6" fill="#1a1a1a">12月</text>
<line x1="1139" y1="121" x2="1167.5" y2="121" stroke="#11757b" stroke-width="3"/>
<circle cx="1153.4" cy="121" r="3.6" fill="#fff" stroke="#11757b" stroke-width="1.8"/>
<text x="1174.5" y="126" font-size="14" fill="#1a1a1a">2025</text>
<line x1="1139" y1="143.7" x2="1167.5" y2="143.7" stroke="#a5a5a5" stroke-width="1.8"/>
<circle cx="1153.4" cy="143.7" r="3.6" fill="#fff" stroke="#a5a5a5" stroke-width="1.6"/>
<text x="1174.5" y="148.7" font-size="14" fill="#1a1a1a">2024</text>
</svg>
<div class="c hu cj" style="left:212.10px;top:471.20px;width:47.00px;height:22.50px;line-height:22.50px;background:#11757b;">单位：辆</div>
<div class="c hw cj" style="left:260.50px;top:471.20px;width:144.40px;height:22.50px;line-height:22.50px;background:#11757b;">类别</div>
<div class="c hw cj" style="left:406.30px;top:471.20px;width:144.40px;height:22.50px;line-height:22.50px;background:#11757b;">10万以下</div>
<div class="c hw cj" style="left:552.10px;top:471.20px;width:144.40px;height:22.50px;line-height:22.50px;background:#11757b;">10-20万</div>
<div class="c hw cj" style="left:697.90px;top:471.20px;width:144.40px;height:22.50px;line-height:22.50px;background:#11757b;">20-30万</div>
<div class="c hw cj" style="left:843.70px;top:471.20px;width:144.40px;height:22.50px;line-height:22.50px;background:#11757b;">30-40万</div>
<div class="c hw cj" style="left:989.50px;top:471.20px;width:144.40px;height:22.50px;line-height:22.50px;background:#11757b;">40万以上</div>
<div class="c vt cj" style="left:212.10px;top:495.10px;width:47.00px;height:63.30px;line-height:63.30px;background:#11757b;"><span>本</span><span>月</span><span>累</span><span>计</span></div>
<div class="c nt cj" style="left:260.50px;top:495.10px;width:144.40px;height:20.60px;line-height:20.60px;">新能源</div>
<div class="c nt num" style="left:406.30px;top:495.10px;width:144.40px;height:20.60px;line-height:20.60px;">1,399,524</div>
<div class="c nt num" style="left:552.10px;top:495.10px;width:144.40px;height:20.60px;line-height:20.60px;">1,693,227</div>
<div class="c nt num" style="left:697.90px;top:495.10px;width:144.40px;height:20.60px;line-height:20.60px;">863,187</div>
<div class="c nt num" style="left:843.70px;top:495.10px;width:144.40px;height:20.60px;line-height:20.60px;">291,380</div>
<div class="c nt num" style="left:989.50px;top:495.10px;width:144.40px;height:20.60px;line-height:20.60px;">110,179</div>
<div class="c rg cj" style="left:260.50px;top:517.10px;width:144.40px;height:20.80px;line-height:20.80px;">燃油车</div>
<div class="c rg num" style="left:406.30px;top:517.10px;width:144.40px;height:20.80px;line-height:20.80px;">897,945</div>
<div class="c rg num" style="left:552.10px;top:517.10px;width:144.40px;height:20.80px;line-height:20.80px;">2,410,856</div>
<div class="c rg num" style="left:697.90px;top:517.10px;width:144.40px;height:20.80px;line-height:20.80px;">499,835</div>
<div class="c rg num" style="left:843.70px;top:517.10px;width:144.40px;height:20.80px;line-height:20.80px;">472,369</div>
<div class="c rg num" style="left:989.50px;top:517.10px;width:144.40px;height:20.80px;line-height:20.80px;">178,197</div>
<div class="c hw cj" style="left:260.50px;top:539.30px;width:144.40px;height:19.10px;line-height:19.10px;background:#11757b;">合计</div>
<div class="c hw num" style="left:406.30px;top:539.30px;width:144.40px;height:19.10px;line-height:19.10px;background:#11757b;">2,297,469</div>
<div class="c hw num" style="left:552.10px;top:539.30px;width:144.40px;height:19.10px;line-height:19.10px;background:#11757b;">4,104,083</div>
<div class="c hw num" style="left:697.90px;top:539.30px;width:144.40px;height:19.10px;line-height:19.10px;background:#11757b;">1,363,022</div>
<div class="c hw num" style="left:843.70px;top:539.30px;width:144.40px;height:19.10px;line-height:19.10px;background:#11757b;">763,749</div>
<div class="c hw num" style="left:989.50px;top:539.30px;width:144.40px;height:19.10px;line-height:19.10px;background:#11757b;">288,376</div>
<div class="c vt cj" style="left:212.10px;top:559.80px;width:47.00px;height:63.30px;line-height:63.30px;background:#11757b;"><span>同</span><span>期</span><span>累</span><span>计</span></div>
<div class="c nt cj" style="left:260.50px;top:559.80px;width:144.40px;height:20.00px;line-height:20.00px;background:#efefef;">新能源</div>
<div class="c nt num" style="left:406.30px;top:559.80px;width:144.40px;height:20.00px;line-height:20.00px;">933,067</div>
<div class="c nt num" style="left:552.10px;top:559.80px;width:144.40px;height:20.00px;line-height:20.00px;">1,265,104</div>
<div class="c nt num" style="left:697.90px;top:559.80px;width:144.40px;height:20.00px;line-height:20.00px;">667,578</div>
<div class="c nt num" style="left:843.70px;top:559.80px;width:144.40px;height:20.00px;line-height:20.00px;">252,970</div>
<div class="c nt num" style="left:989.50px;top:559.80px;width:144.40px;height:20.00px;line-height:20.00px;">127,236</div>
<div class="c rg cj" style="left:260.50px;top:581.20px;width:144.40px;height:21.20px;line-height:21.20px;background:#efefef;">燃油车</div>
<div class="c rg num" style="left:406.30px;top:581.20px;width:144.40px;height:21.20px;line-height:21.20px;">918,592</div>
<div class="c rg num" style="left:552.10px;top:581.20px;width:144.40px;height:21.20px;line-height:21.20px;">2,606,221</div>
<div class="c rg num" style="left:697.90px;top:581.20px;width:144.40px;height:21.20px;line-height:21.20px;">602,356</div>
<div class="c rg num" style="left:843.70px;top:581.20px;width:144.40px;height:21.20px;line-height:21.20px;">529,992</div>
<div class="c rg num" style="left:989.50px;top:581.20px;width:144.40px;height:21.20px;line-height:21.20px;">171,756</div>
<div class="c hw cj" style="left:260.50px;top:603.80px;width:144.40px;height:19.30px;line-height:19.30px;background:#11757b;">合计</div>
<div class="c hw num" style="left:406.30px;top:603.80px;width:144.40px;height:19.30px;line-height:19.30px;background:#11757b;">1,851,659</div>
<div class="c hw num" style="left:552.10px;top:603.80px;width:144.40px;height:19.30px;line-height:19.30px;background:#11757b;">3,871,325</div>
<div class="c hw num" style="left:697.90px;top:603.80px;width:144.40px;height:19.30px;line-height:19.30px;background:#11757b;">1,269,934</div>
<div class="c hw num" style="left:843.70px;top:603.80px;width:144.40px;height:19.30px;line-height:19.30px;background:#11757b;">782,962</div>
<div class="c hw num" style="left:989.50px;top:603.80px;width:144.40px;height:19.30px;line-height:19.30px;background:#11757b;">298,992</div>
<div class="c vt cj" style="left:212.10px;top:624.50px;width:47.00px;height:63.10px;line-height:63.10px;background:#11757b;"><span>累</span><span>计</span><span>同</span><span>比</span></div>
<div class="c nt cj" style="left:260.50px;top:624.50px;width:144.40px;height:20.70px;line-height:20.70px;">新能源</div>
<div class="c nt num" style="left:406.30px;top:624.50px;width:144.40px;height:20.70px;line-height:20.70px;">50.0%</div>
<div class="c nt num" style="left:552.10px;top:624.50px;width:144.40px;height:20.70px;line-height:20.70px;">33.8%</div>
<div class="c nt num" style="left:697.90px;top:624.50px;width:144.40px;height:20.70px;line-height:20.70px;">29.3%</div>
<div class="c nt num" style="left:843.70px;top:624.50px;width:144.40px;height:20.70px;line-height:20.70px;">15.2%</div>
<div class="c nt num" style="left:989.50px;top:624.50px;width:144.40px;height:20.70px;line-height:20.70px;">-13.4%</div>
<div class="c rg cj" style="left:260.50px;top:646.60px;width:144.40px;height:20.50px;line-height:20.50px;">燃油车</div>
<div class="c rg num" style="left:406.30px;top:646.60px;width:144.40px;height:20.50px;line-height:20.50px;">-2.2%</div>
<div class="c rg num" style="left:552.10px;top:646.60px;width:144.40px;height:20.50px;line-height:20.50px;">-7.5%</div>
<div class="c rg num" style="left:697.90px;top:646.60px;width:144.40px;height:20.50px;line-height:20.50px;">-17.0%</div>
<div class="c rg num" style="left:843.70px;top:646.60px;width:144.40px;height:20.50px;line-height:20.50px;">-10.9%</div>
<div class="c rg num" style="left:989.50px;top:646.60px;width:144.40px;height:20.50px;line-height:20.50px;">3.8%</div>
<div class="c hw cj" style="left:260.50px;top:668.50px;width:144.40px;height:19.10px;line-height:19.10px;background:#11757b;">合计</div>
<div class="c hw num" style="left:406.30px;top:668.50px;width:144.40px;height:19.10px;line-height:19.10px;background:#11757b;">24.1%</div>
<div class="c hw num" style="left:552.10px;top:668.50px;width:144.40px;height:19.10px;line-height:19.10px;background:#11757b;">6.0%</div>
<div class="c hw num" style="left:697.90px;top:668.50px;width:144.40px;height:19.10px;line-height:19.10px;background:#11757b;">7.3%</div>
<div class="c hw num" style="left:843.70px;top:668.50px;width:144.40px;height:19.10px;line-height:19.10px;background:#11757b;">-2.5%</div>
<div class="c hw num" style="left:989.50px;top:668.50px;width:144.40px;height:19.10px;line-height:19.10px;background:#11757b;">-3.6%</div>
<div class="a" style="left:211.40px;top:493.70px;width:923.20px;height:1.40px;background:#fff"></div>
<div class="a" style="left:259.80px;top:515.70px;width:874.80px;height:1.40px;background:#fff"></div>
<div class="a" style="left:259.80px;top:537.90px;width:874.80px;height:1.40px;background:#fff"></div>
<div class="a" style="left:211.40px;top:558.40px;width:923.20px;height:1.40px;background:#fff"></div>
<div class="a" style="left:259.80px;top:579.80px;width:874.80px;height:1.40px;background:#fff"></div>
<div class="a" style="left:259.80px;top:602.40px;width:874.80px;height:1.40px;background:#fff"></div>
<div class="a" style="left:211.40px;top:623.10px;width:923.20px;height:1.40px;background:#fff"></div>
<div class="a" style="left:259.80px;top:645.20px;width:874.80px;height:1.40px;background:#fff"></div>
<div class="a" style="left:259.80px;top:667.10px;width:874.80px;height:1.40px;background:#fff"></div>
<div class="a" style="left:259.10px;top:470.50px;width:1.40px;height:217.80px;background:#fff"></div>
<div class="a" style="left:404.90px;top:470.50px;width:1.40px;height:217.80px;background:#fff"></div>
<div class="a" style="left:550.70px;top:470.50px;width:1.40px;height:217.80px;background:#fff"></div>
<div class="a" style="left:696.50px;top:470.50px;width:1.40px;height:217.80px;background:#fff"></div>
<div class="a" style="left:842.30px;top:470.50px;width:1.40px;height:217.80px;background:#fff"></div>
<div class="a" style="left:988.10px;top:470.50px;width:1.40px;height:217.80px;background:#fff"></div>
<div class="a" style="left:0;top:693px;width:1078px;height:2px;background:#11757b"></div>
<div class="a" style="left:1189px;top:693px;width:91px;height:2px;background:#11757b"></div>
<div class="a" style="left:1097px;top:687px;font-family:'Liberation Serif', serif;font-size:11px;line-height:14px;letter-spacing:1.6px;color:#11757b;font-weight:bold">深度分析报告</div>
<div class="ft" style="left:14px">秘书处</div>
<div class="ft" style="left:61px;letter-spacing:0.3px">地址：上海市武宁路423号18号楼1103室</div>
<div class="ft" style="left:292px;letter-spacing:0.35px">电话：021-52680968</div>
<div class="ft" style="left:419px;letter-spacing:0.15px">邮箱：cpcanews@sxtauto.com.cn</div>
<div class="a" style="left:1251px;top:700px;font-size:16px;color:#11757b;line-height:18px">27</div>
</body></html>
